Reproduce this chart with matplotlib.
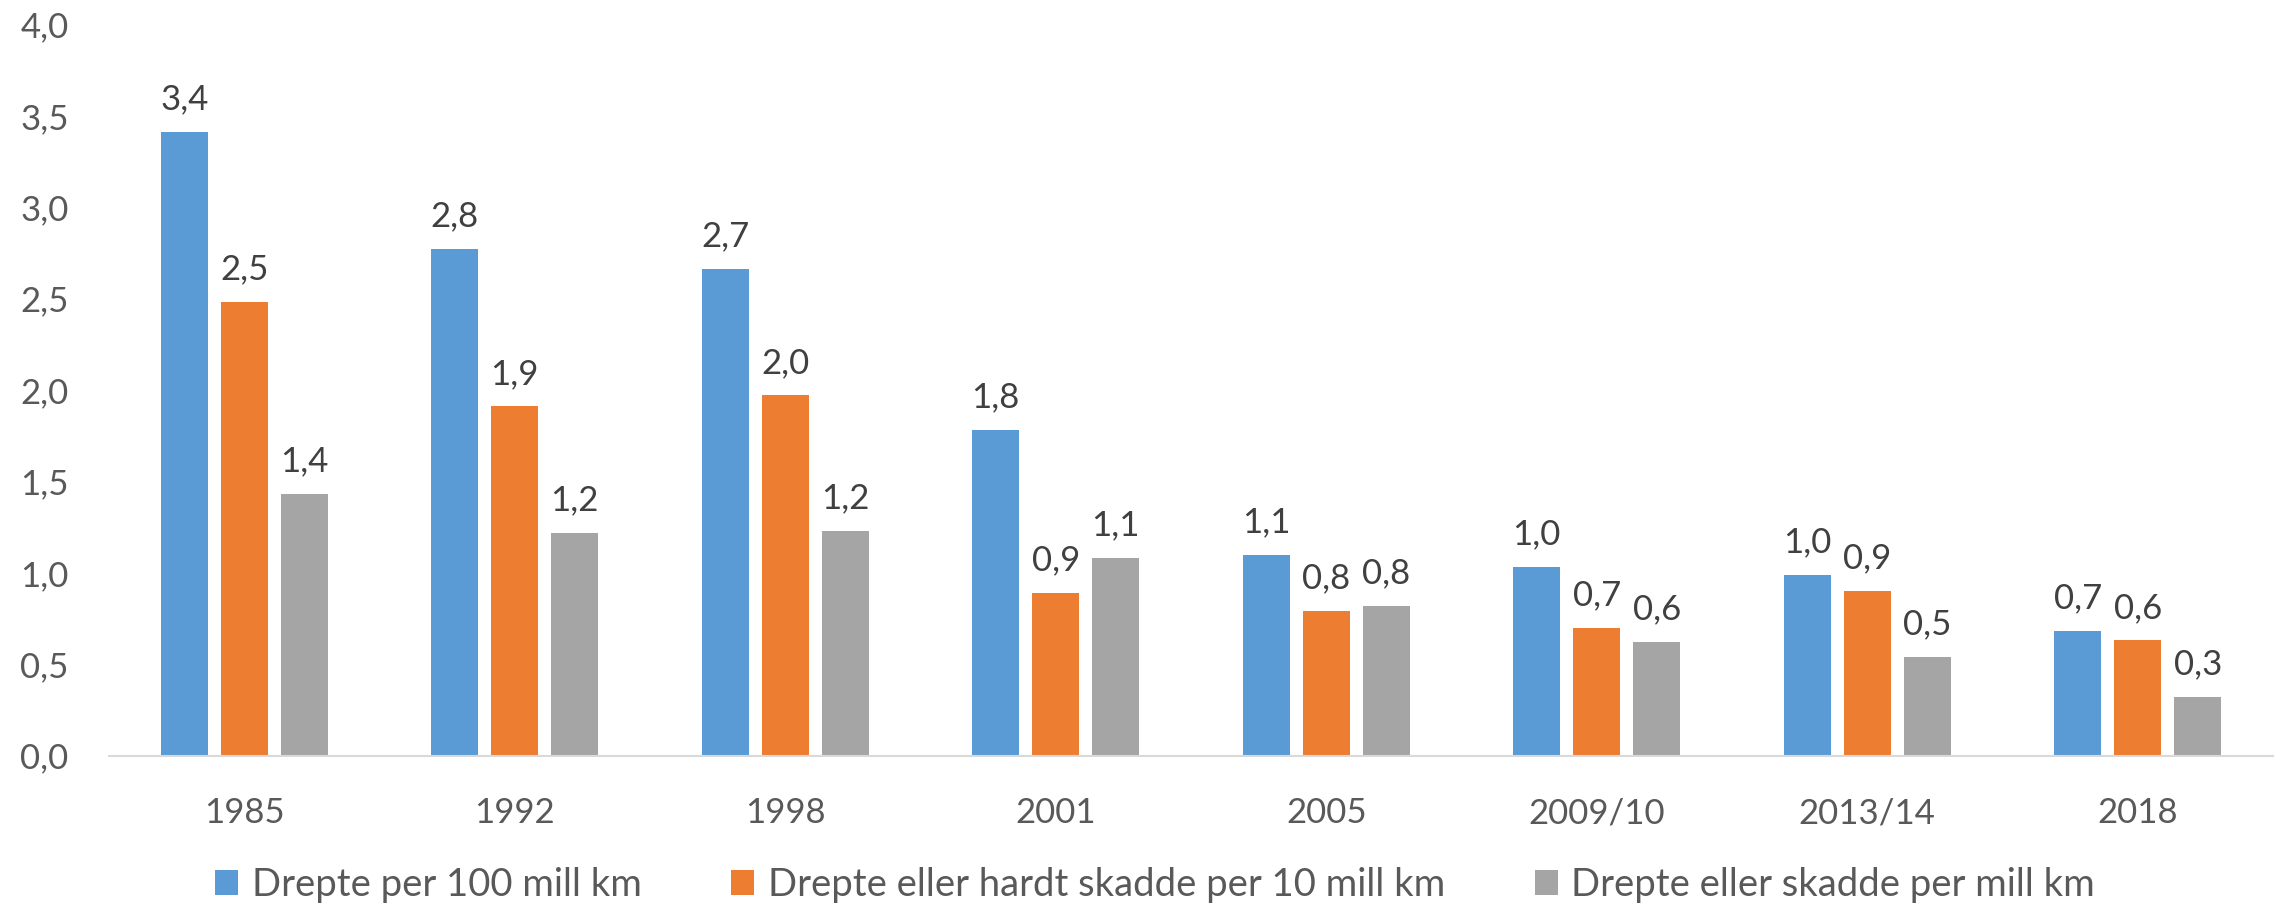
import matplotlib
matplotlib.use("Agg")
import matplotlib.pyplot as plt
import numpy as np

categories = ["1985", "1992", "1998", "2001", "2005", "2009/10", "2013/14", "2018"]
series_names = ["Drepte per 100 mill km",
                "Drepte eller hardt skadde per 10 mill km",
                "Drepte eller skadde per mill km"]
drepte_100 = [3.41, 2.77, 2.66, 1.78, 1.10, 1.03, 0.99, 0.68]
hardt_10 = [2.48, 1.91, 1.97, 0.89, 0.79, 0.70, 0.90, 0.63]
skadde_1 = [1.43, 1.22, 1.23, 1.08, 0.82, 0.62, 0.54, 0.32]
colors = ["#5B9BD5", "#ED7D31", "#A5A5A5"]

plt.rcParams['font.family'] = ['Lato', 'DejaVu Sans']
FS = 25

fig = plt.figure(figsize=(22.78, 9.10), dpi=100)
ax = fig.add_axes([109/2278, 1-755.6/910, (2273-109)/2278, (755.6-24.4)/910])

x = np.arange(len(categories))
w = 0.174
step = 0.222
all_series = [drepte_100, hardt_10, skadde_1]
for i, (vals, c, name) in enumerate(zip(all_series, colors, series_names)):
    bars = ax.bar(x + (i-1)*step, vals, width=w, color=c, label=name)
    for b, v in zip(bars, vals):
        ax.annotate(f"{v:.1f}".replace(".", ","), (b.get_x()+b.get_width()/2, v),
                    xytext=(0, 12), textcoords="offset points", ha="center", va="bottom",
                    fontsize=FS, color="#404040")

ax.set_xlim(-0.5, len(categories)-0.5)
ax.set_ylim(0, 4.0)
yt = np.arange(0, 4.01, 0.5)
ax.set_yticks(yt)
ax.set_yticklabels([f"{t:.1f}".replace(".", ",") for t in yt])
ax.set_xticks(x)
ax.set_xticklabels(categories)
ax.tick_params(axis='y', length=0, pad=29, labelsize=FS, labelcolor="#595959")
ax.tick_params(axis='x', length=0, pad=30, labelsize=FS, labelcolor="#595959")
for s in ["top", "right", "left"]:
    ax.spines[s].set_visible(False)
ax.spines["bottom"].set_color("#D9D9D9")
ax.spines["bottom"].set_linewidth(1.5)

fig.legend(loc="center", bbox_to_anchor=(1155/2278, 1-885/910), ncol=3, frameon=False,
           fontsize=27.5, labelcolor="#595959", handlelength=0.6, handleheight=0.6,
           handletextpad=0.35, columnspacing=2.35)

fig.savefig("out.png", dpi=100)
